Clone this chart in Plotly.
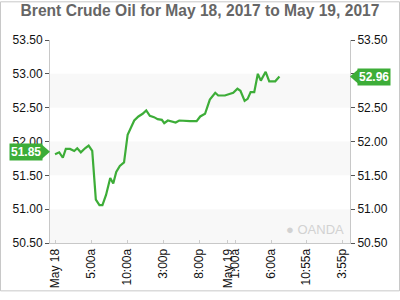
import plotly.graph_objects as go

# ---- data ----
times = [
    "2017-05-18 00:00", "2017-05-18 00:35", "2017-05-18 01:05", "2017-05-18 01:30",
    "2017-05-18 02:05", "2017-05-18 02:40", "2017-05-18 03:05", "2017-05-18 03:35",
    "2017-05-18 04:10", "2017-05-18 04:40", "2017-05-18 05:10", "2017-05-18 05:40",
    "2017-05-18 06:10", "2017-05-18 06:35", "2017-05-18 07:05", "2017-05-18 07:40",
    "2017-05-18 08:05", "2017-05-18 08:30", "2017-05-18 09:00", "2017-05-18 09:35",
    "2017-05-18 10:05", "2017-05-18 10:30", "2017-05-18 11:00", "2017-05-18 11:35",
    "2017-05-18 12:10", "2017-05-18 12:40", "2017-05-18 13:10", "2017-05-18 13:45",
    "2017-05-18 14:15", "2017-05-18 14:50", "2017-05-18 15:10", "2017-05-18 15:40",
    "2017-05-18 16:10", "2017-05-18 16:45", "2017-05-18 17:15", "2017-05-18 18:05",
    "2017-05-18 18:45", "2017-05-18 19:40", "2017-05-18 20:10", "2017-05-18 20:50",
    "2017-05-18 21:30", "2017-05-18 22:15", "2017-05-18 22:40", "2017-05-18 23:35",
    "2017-05-19 00:20", "2017-05-19 00:45", "2017-05-19 01:20", "2017-05-19 01:45",
    "2017-05-19 02:20", "2017-05-19 02:45", "2017-05-19 03:10", "2017-05-19 03:40",
    "2017-05-19 04:10", "2017-05-19 04:35", "2017-05-19 05:15", "2017-05-19 05:45",
    "2017-05-19 06:35", "2017-05-19 07:10",
]
prices = [
    51.81, 51.84, 51.76, 51.89,
    51.89, 51.86, 51.90, 51.84,
    51.90, 51.94, 51.86, 51.14,
    51.06, 51.06, 51.21, 51.46,
    51.38, 51.55, 51.64, 51.69,
    52.10, 52.19, 52.31, 52.37,
    52.41, 52.46, 52.38, 52.36,
    52.33, 52.32, 52.27, 52.31,
    52.30, 52.28, 52.31, 52.30,
    52.30, 52.30, 52.37, 52.41,
    52.62, 52.72, 52.68, 52.68,
    52.70, 52.72, 52.78, 52.75,
    52.60, 52.63, 52.73, 52.73,
    53.00, 52.90, 53.03, 52.89,
    52.89, 52.96,
]
ref_price = 51.85
last_price = 52.96

x_tick_vals = [
    "2017-05-18 00:00", "2017-05-18 05:00", "2017-05-18 10:00", "2017-05-18 15:00",
    "2017-05-18 20:00", "2017-05-19 00:00", "2017-05-19 01:00", "2017-05-19 06:00",
    "2017-05-19 10:55", "2017-05-19 15:55",
]
x_tick_text = ["May 18", "5:00a", "10:00a", "3:00p", "8:00p", "May 19", "1:00a",
               "6:00a", "10:55a", "3:55p"]
x_range = ["2017-05-17 23:18", "2017-05-19 16:58"]
y_range = [50.5, 53.5]
y_bands = [(52.5, 53.0), (51.5, 52.0), (50.5, 51.0)]

title = "Brent Crude Oil for May 18, 2017 to May 19, 2017"

GREEN = "#3dad38"
FONT = "Arial, Liberation Sans, sans-serif"

fig = go.Figure()
fig.add_trace(go.Scatter(x=times, y=prices, mode="lines",
                         line=dict(color=GREEN, width=2.2), hoverinfo="skip",
                         showlegend=False))
fig.add_trace(go.Scatter(x=times, y=prices, mode="lines", yaxis="y2",
                         line=dict(color="rgba(0,0,0,0)", width=0), hoverinfo="skip",
                         showlegend=False))

shapes = []
for lo, hi in y_bands:
    shapes.append(dict(type="rect", xref="paper", yref="y", x0=0, x1=1, y0=lo, y1=hi,
                       fillcolor="#f8f8f8", line=dict(width=0), layer="below"))
# price marker arrows
shapes.append(dict(type="path", xref="paper", xsizemode="pixel", xanchor=0,
                   yref="y", ysizemode="pixel", yanchor=ref_price,
                   path="M -8,-7 L 0,0 L -8,7 Z", fillcolor=GREEN, line=dict(width=0)))
shapes.append(dict(type="path", xref="paper", xsizemode="pixel", xanchor=1,
                   yref="y", ysizemode="pixel", yanchor=last_price,
                   path="M 8,-7 L 0,0 L 8,7 Z", fillcolor=GREEN, line=dict(width=0)))
# outer border
shapes.append(dict(type="rect", xref="paper", yref="paper",
                   x0=(0.5 - 50) / 300, x1=(399.5 - 50) / 300,
                   y0=(250 - 299.5) / 210, y1=(250 - 0.5) / 210,
                   line=dict(color="#c8c8c8", width=1), fillcolor="rgba(0,0,0,0)"))

annotations = [
    dict(text="<b>%.2f</b>" % ref_price, xref="paper", x=0, xanchor="right", xshift=-7,
         yref="y", y=ref_price, yanchor="middle", showarrow=False,
         bgcolor=GREEN, borderpad=1, font=dict(family=FONT, size=12, color="white")),
    dict(text="<b>%.2f</b>" % last_price, xref="paper", x=1, xanchor="left", xshift=7,
         yref="y", y=last_price, yanchor="middle", showarrow=False,
         bgcolor=GREEN, borderpad=1, font=dict(family=FONT, size=12, color="white")),
    dict(text="● OANDA", xref="paper", x=1, xanchor="right", xshift=-4,
         yref="paper", y=0, yanchor="bottom", yshift=4, showarrow=False,
         font=dict(family=FONT, size=13, color="#d2d2d2")),
]

axis_y = dict(range=y_range, dtick=0.5, tickformat=".2f", showgrid=False, zeroline=False,
              showline=True, linecolor="#c8c8c8", linewidth=1,
              ticks="outside", ticklen=4, tickcolor="#555",
              tickfont=dict(family=FONT, size=12, color="#111"), fixedrange=True)

fig.update_layout(
    width=400, height=300,
    margin=dict(l=50, r=50, t=40, b=50),
    paper_bgcolor="white", plot_bgcolor="white",
    title=dict(text="<b>%s</b>" % title, x=0.5, xanchor="center", xref="paper",
               y=1 - 11 / 300, yanchor="middle",
               font=dict(family=FONT, size=15.6, color="#666666")),
    xaxis=dict(type="date", range=x_range, tickvals=x_tick_vals, ticktext=x_tick_text,
               tickangle=-90, showgrid=False, zeroline=False,
               showline=True, linecolor="#c8c8c8", linewidth=1,
               ticks="inside", ticklen=3, tickcolor="#cccccc",
               tickfont=dict(family=FONT, size=12, color="#111")),
    yaxis=axis_y,
    yaxis2=dict(axis_y, overlaying="y", side="right", anchor="x"),
    shapes=shapes,
    annotations=annotations,
    showlegend=False,
)

fig.write_html("out.html")
